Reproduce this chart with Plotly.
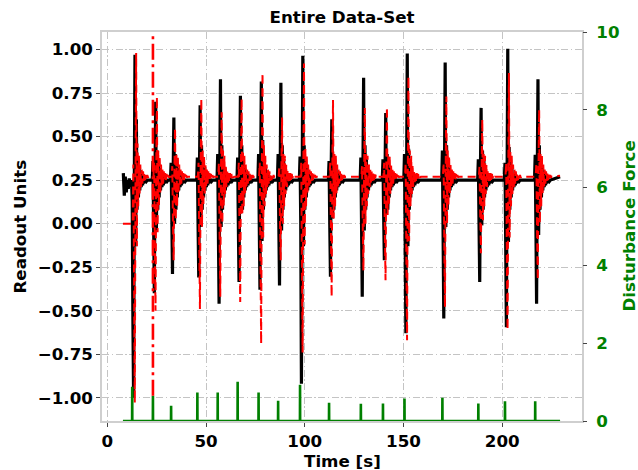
import plotly.graph_objects as go

# ---------------- data ----------------
# disturbance impulses (right axis)
disturb_t = [12.6, 23.1, 32.3, 45.6, 55.9, 66.0, 76.6, 86.5, 97.6, 112.3,
             128.4, 139.6, 150.5, 169.7, 187.9, 201.4, 216.7]
disturb_f = [0.88, 0.65, 0.39, 0.73, 0.73, 1.01, 0.73, 0.52, 0.93, 0.47,
             0.44, 0.45, 0.58, 0.60, 0.45, 0.51, 0.51]
force_start, force_end = 7.9, 229.3

# red dash-dot marker (right axis)
marker_t = 23.1
marker_y = [0.65, 9.92]

# sampling interval of the ring-down extremes [s]
step = 0.35

# measured readout before the first disturbance
black_pre_t = [8.1, 8.6, 9.1, 9.6, 10.1, 10.6, 11.1, 11.6]
black_pre_v = [0.29, 0.16, 0.27, 0.18, 0.25, 0.20, 0.26, 0.22]
red_pre_t = [7.9]
red_pre_v = [0.0]

# per-event extremes: [pre, bump, mid, negative peak, recover, positive peak, 2nd low, 2nd high]
black_heads = [
    [0.25, 0.13, -0.55, -1.00, 0.20, 0.97, -0.13, 0.60],
    [0.25, 0.36, 0.00, -0.40, 0.30, 0.70, -0.04, 0.42],
    [0.25, 0.35, 0.05, -0.29, 0.30, 0.61, 0.00, 0.40],
    [0.25, 0.38, 0.00, -0.31, 0.30, 0.68, -0.02, 0.45],
    [0.25, 0.40, -0.05, -0.46, 0.30, 0.83, -0.02, 0.45],
    [0.25, 0.38, 0.00, -0.335, 0.30, 0.735, 0.06, 0.45],
    [0.25, 0.40, 0.00, -0.38, 0.30, 0.817, -0.10, 0.48],
    [0.25, 0.40, 0.00, -0.355, 0.30, 0.81, -0.04, 0.45],
    [0.25, 0.385, 0.02, -0.92, 0.20, 0.965, -0.13, 0.45],
    [0.25, 0.36, 0.00, -0.305, 0.30, 0.60, 0.03, 0.40],
    [0.25, 0.38, 0.00, -0.42, 0.30, 0.838, -0.04, 0.45],
    [0.25, 0.37, 0.05, -0.21, 0.30, 0.636, 0.05, 0.40],
    [0.25, 0.40, -0.10, -0.63, 0.25, 0.978, -0.13, 0.43],
    [0.25, 0.42, -0.05, -0.545, 0.30, 0.925, -0.02, 0.45],
    [0.25, 0.37, 0.00, -0.335, 0.30, 0.665, -0.01, 0.42],
    [0.25, 0.35, -0.10, -0.595, 0.25, 1.004, -0.105, 0.44],
    [0.25, 0.395, 0.00, -0.46, 0.30, 0.83, -0.065, 0.45],
]
red_heads = [
    [0.00, 0.34, -0.50, -1.03, 0.20, 0.98, -0.13, 0.46],
    [0.27, 0.35, -0.10, -0.50, 0.30, 0.73, -0.05, 0.42],
    [0.27, 0.33, 0.00, -0.21, 0.30, 0.55, 0.02, 0.40],
    [0.27, 0.35, -0.10, -0.49, 0.30, 0.72, -0.02, 0.42],
    [0.27, 0.35, -0.05, -0.42, 0.30, 0.64, 0.00, 0.42],
    [0.27, 0.35, -0.05, -0.45, 0.30, 0.72, 0.05, 0.42],
    [0.27, 0.35, -0.20, -0.69, 0.30, 0.866, -0.08, 0.45],
    [0.27, 0.33, 0.00, -0.21, 0.30, 0.61, 0.00, 0.40],
    [0.27, 0.35, -0.20, -0.74, 0.25, 0.92, -0.12, 0.43],
    [0.27, 0.35, -0.05, -0.42, 0.30, 0.71, 0.03, 0.40],
    [0.27, 0.33, 0.00, -0.27, 0.30, 0.665, 0.00, 0.40],
    [0.27, 0.35, -0.05, -0.325, 0.30, 0.67, 0.05, 0.40],
    [0.27, 0.35, -0.20, -0.67, 0.25, 0.846, -0.10, 0.42],
    [0.27, 0.35, -0.10, -0.48, 0.30, 0.73, 0.00, 0.42],
    [0.27, 0.33, 0.05, -0.17, 0.30, 0.60, 0.02, 0.40],
    [0.27, 0.35, -0.20, -0.61, 0.25, 0.866, -0.08, 0.42],
    [0.27, 0.35, -0.05, -0.325, 0.30, 0.655, 0.00, 0.40],
]
# typical ring-down extremes after each event
black_tail = [0.08, 0.37, 0.15, 0.32, 0.19, 0.29, 0.21, 0.28, 0.22, 0.27,
              0.23, 0.26, 0.24, 0.255, 0.245, 0.25]
red_tail = [0.10, 0.39, 0.17, 0.34, 0.21, 0.31, 0.23, 0.30, 0.245, 0.29,
            0.25, 0.285, 0.26, 0.28, 0.265, 0.27]
black_end = (229.3, 0.27)
red_end = (229.3, 0.275)
red_lag = 0.6

# ---------------- build series ----------------
bx, by = list(black_pre_t), list(black_pre_v)
rx, ry = list(red_pre_t), list(red_pre_v)
for td, bh, rh in zip(disturb_t, black_heads, red_heads):
    t0 = td - step
    for k, v in enumerate(bh + black_tail):
        bx.append(t0 + k * step)
        by.append(v)
    for k, v in enumerate(rh + red_tail):
        rx.append(t0 + red_lag + k * step)
        ry.append(v)
bx.append(black_end[0]); by.append(black_end[1])
rx.append(red_end[0]); ry.append(red_end[1])

gx, gy = [force_start], [0.0]
for td, f in zip(disturb_t, disturb_f):
    gx += [td - 0.05, td, td + 0.05]
    gy += [0.0, f, 0.0]
gx.append(force_end); gy.append(0.0)

# ---------------- figure ----------------
GREEN = "#008000"
FONT = "DejaVu Sans"
W, H = 638, 470
ML, MR, MT, MB = 102, 56, 32, 49
PW, PH = W - ML - MR, H - MT - MB

fig = go.Figure()
fig.add_trace(go.Scatter(x=bx, y=by, mode="lines",
                         line=dict(color="black", width=3.2), showlegend=False))
fig.add_trace(go.Scatter(x=rx, y=ry, mode="lines",
                         line=dict(color="#ff0000", width=2.0, dash="8px,5px"),
                         showlegend=False))
fig.add_trace(go.Scatter(x=gx, y=gy, mode="lines", yaxis="y2",
                         line=dict(color=GREEN, width=2.6), showlegend=False))
fig.add_trace(go.Scatter(x=[marker_t, marker_t], y=marker_y, mode="lines", yaxis="y2",
                         line=dict(color="#ff0000", width=2.6, dash="16px,4.5px,3px,4.5px"),
                         showlegend=False))

grid = dict(showgrid=True, gridcolor="#c4c4c4", gridwidth=1.2,
            griddash="7px,2.5px,1.5px,2.5px")
bold = dict(family=FONT, size=16.7, color="black", weight="bold")
fig.update_layout(
    width=W, height=H,
    margin=dict(l=ML, r=MR, t=MT, b=MB),
    paper_bgcolor="white", plot_bgcolor="white",
    title=dict(text="Entire Data-Set", x=0.5, xanchor="center", xref="paper",
               y=1 - 17 / H, yref="container", yanchor="middle",
               font=dict(family=FONT, size=16.7, color="black", weight="bold")),
    xaxis=dict(range=[-2.7, 240.4], tickvals=[0, 50, 100, 150, 200],
               ticks="outside", ticklen=4, tickcolor="#444", tickwidth=1,
               showline=True, linecolor="#cfcfcf", linewidth=1.5, mirror=True,
               tickfont=bold, zeroline=False, **grid),
    yaxis=dict(range=[-1.134, 1.101],
               tickvals=[-1.0, -0.75, -0.5, -0.25, 0.0, 0.25, 0.5, 0.75, 1.0],
               tickformat=".2f",
               ticks="outside", ticklen=4, tickcolor="#444", tickwidth=1,
               showline=True, linecolor="#cfcfcf", linewidth=1.5, mirror=True,
               tickfont=bold, zeroline=False, **grid),
    yaxis2=dict(range=[0, 10], tickvals=[0, 2, 4, 6, 8, 10], overlaying="y",
                side="right", showgrid=False, zeroline=False,
                ticks="outside", ticklen=4, tickcolor="#444", tickwidth=1,
                ticklabelstandoff=6,
                tickfont=dict(family=FONT, size=16.7, color=GREEN, weight="bold")),
    annotations=[
        dict(text="Time [s]", x=0.5, xref="paper", y=-(461 - (H - MB)) / PH,
             yref="paper", yanchor="middle", xanchor="center", showarrow=False,
             font=bold),
        dict(text="Readout Units", x=(19 - ML) / PW, xref="paper", y=0.5,
             yref="paper", textangle=-90, showarrow=False,
             xanchor="center", yanchor="middle", font=bold),
        dict(text="Disturbance Force", x=(628 - ML) / PW, xref="paper", y=0.5,
             yref="paper", textangle=-90, showarrow=False,
             xanchor="center", yanchor="middle",
             font=dict(family=FONT, size=16.7, color=GREEN, weight="bold")),
    ],
)

fig.write_html("out.html")
